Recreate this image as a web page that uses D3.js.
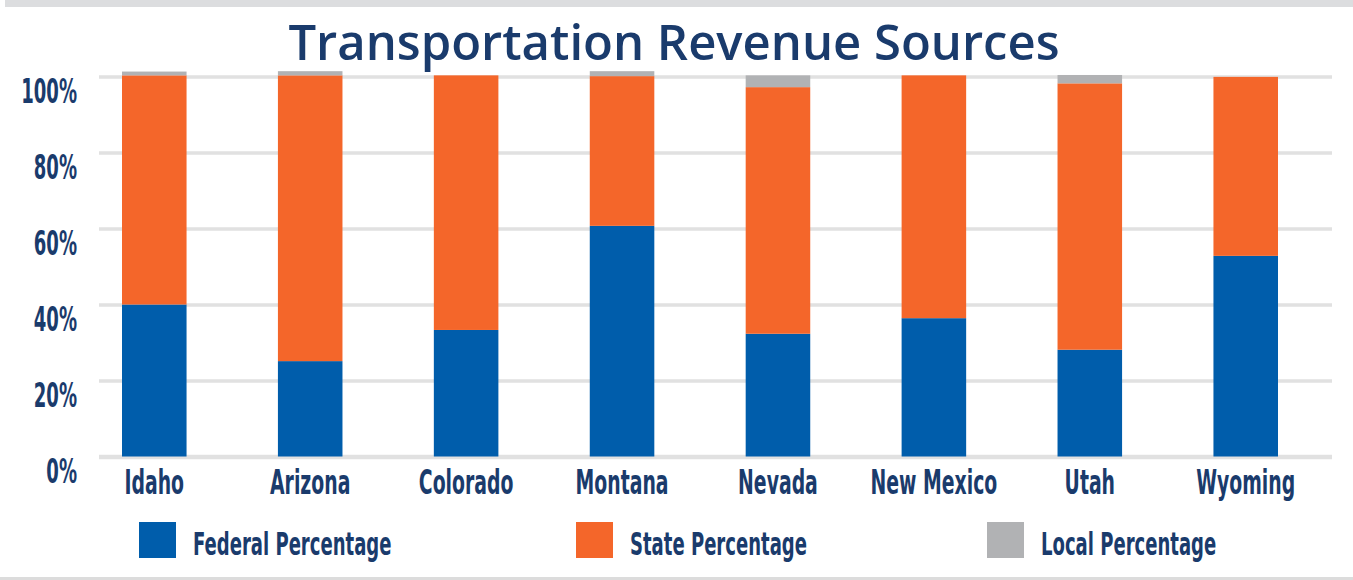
<!DOCTYPE html>
<html>
<head>
<meta charset="utf-8">
<script src="https://cdn.jsdelivr.net/npm/d3@7"></script>
<style>
  html, body { margin: 0; padding: 0; background: #fff; }
  svg { display: block; }
  .cond { font-family: "Liberation Sans Narrow", "Arial Narrow", "DejaVu Sans Condensed", sans-serif; font-weight: bold; fill: #1a3b6c; }
</style>
</head>
<body>
<div id="chart"></div>
<script>
// chart data
const states = ["Idaho", "Arizona", "Colorado", "Montana", "Nevada", "New Mexico", "Utah", "Wyoming"];
const federalPct = [40.0, 25.1, 33.3, 60.7, 32.3, 36.4, 28.1, 52.8];
const statePct   = [60.3, 75.2, 67.0, 39.4, 64.9, 63.9, 70.1, 47.1];
const localPct   = [1.0, 1.1, 0.0, 1.3, 3.1, 0.0, 2.2, 0.0];
const yTicks = [0, 20, 40, 60, 80, 100];
const seriesKeys = ["federal", "state", "local"];
const seriesNames = ["Federal Percentage", "State Percentage", "Local Percentage"];
const seriesColors = ["#005dab", "#f4662a", "#b1b2b4"];

const W = 1353, H = 580;
const textColor = "#1a3b6c";

const svg = d3.select("#chart").append("svg")
    .attr("width", W).attr("height", H);

// frame bands top and bottom
svg.append("rect").attr("x", 5).attr("y", 0).attr("width", W - 5).attr("height", 7).attr("fill", "#dcdddf");
svg.append("rect").attr("x", 0).attr("y", 577).attr("width", W).attr("height", 3).attr("fill", "#dcdcdc");

svg.append("text")
    .attr("x", 674).attr("y", 60)
    .attr("text-anchor", "middle")
    .style("font-family", "'Open Sans', sans-serif")
    .style("font-weight", 600)
    .style("font-size", "49px")
    .style("fill", textColor)
    .text("Transportation Revenue Sources");

const x = d3.scaleBand().domain(states).range([122, 1278]).paddingInner(0.586).paddingOuter(0);
const y = d3.scaleLinear().domain([0, 100]).range([456.5, 76.5]);

const gridLeft = 99, gridRight = 1332;

// y axis + gridlines
const yAxis = svg.append("g")
    .attr("transform", `translate(${gridLeft},0)`)
    .call(d3.axisLeft(y).tickValues(yTicks).tickFormat(d => d + "%").tickSize(-(gridRight - gridLeft)));
yAxis.select(".domain").remove();
yAxis.selectAll(".tick line")
    .attr("stroke", "#e1e1e1")
    .attr("stroke-width", d => d === 0 ? 4.5 : 3.5);
yAxis.selectAll(".tick text")
    .attr("class", "cond")
    .attr("x", 0).attr("dy", 0)
    .attr("transform", "translate(-22,26) scale(0.59,1)")
    .style("font-size", "34px")
    .style("fill", textColor);

// stacked bars
const rows = states.map((s, i) => ({ name: s, federal: federalPct[i], state: statePct[i], local: localPct[i] }));
const stacked = d3.stack().keys(seriesKeys)(rows);

svg.append("g").selectAll("g")
  .data(stacked)
  .join("g")
    .attr("fill", (d, i) => seriesColors[i])
  .selectAll("rect")
  .data(d => d)
  .join("rect")
    .attr("x", d => x(d.data.name))
    .attr("width", x.bandwidth())
    .attr("y", d => y(d[1]))
    .attr("height", d => y(d[0]) - y(d[1]));

// x axis labels
const xAxis = svg.append("g")
    .attr("transform", `translate(0,${y(0)})`)
    .call(d3.axisBottom(x).tickSize(0));
xAxis.select(".domain").remove();
xAxis.selectAll(".tick text")
    .attr("class", "cond")
    .attr("y", 0).attr("dy", 0)
    .attr("transform", "translate(0,37) scale(0.635,1)")
    .style("font-size", "33px")
    .style("fill", textColor);

// legend
const legendX = [139, 576, 987];
const legend = svg.append("g").selectAll("g")
  .data(seriesNames)
  .join("g")
    .attr("transform", (d, i) => `translate(${legendX[i]},522)`);
legend.append("rect")
    .attr("width", 37).attr("height", 36)
    .attr("fill", (d, i) => seriesColors[i]);
legend.append("text")
    .attr("class", "cond")
    .attr("transform", "translate(54,33) scale(0.627,1)")
    .style("font-size", "32px")
    .text(d => d);
</script>
</body>
</html>
